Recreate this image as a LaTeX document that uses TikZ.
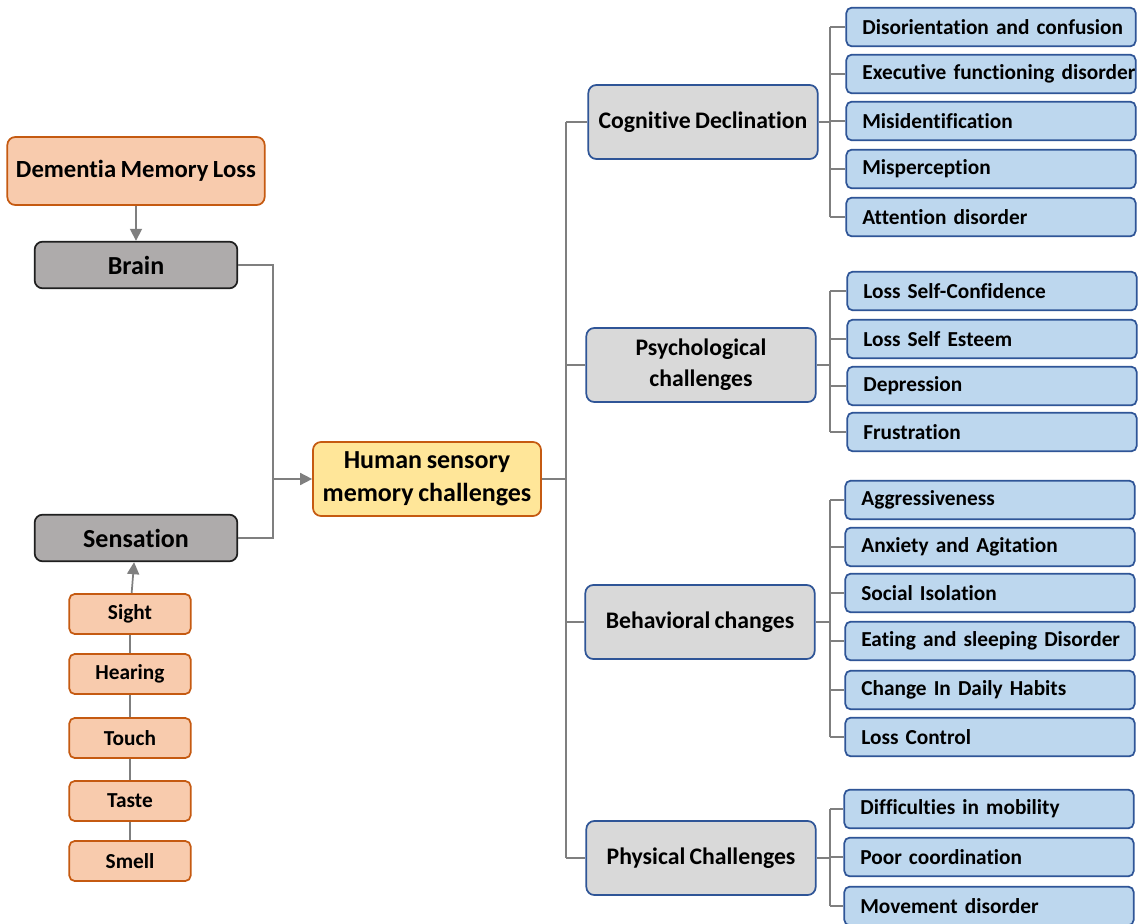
\documentclass[tikz,border=0pt]{standalone}
\usepackage{fontspec}
\setmainfont{Carlito}[Ligatures={NoCommon}, WordSpace=0.8]
\usetikzlibrary{arrows.meta, positioning}
\definecolor{DMpeach}{HTML}{F8CBAD}
\definecolor{DMorange}{HTML}{C55A11}
\definecolor{DMdark}{HTML}{1F1F1F}
\definecolor{DMgray}{HTML}{AEABAB}
\definecolor{DMyellow}{HTML}{FFE699}
\definecolor{DMlight}{HTML}{D9D9D9}
\definecolor{DMblue}{HTML}{2F5597}
\definecolor{DMleaf}{HTML}{BDD7EE}
\definecolor{DMline}{HTML}{7F7F7F}

\begin{document}
\begin{tikzpicture}[x=0.75pt, y=-0.75pt,
      box/.style={draw, rounded corners=6pt, line width=1.3pt, align=center},
      source/.style={box, fill=DMpeach, draw=DMorange, minimum width=193pt, minimum height=51pt, font=\fontsize{18.5}{22}\selectfont\bfseries},
      organ/.style={box, fill=DMgray, draw=DMdark, minimum width=152pt, minimum height=35pt, font=\fontsize{19.5}{22}\selectfont\bfseries},
      sense/.style={box, rounded corners=4pt, fill=DMpeach, draw=DMorange, minimum width=91pt, minimum height=30pt, font=\fontsize{16}{18}\selectfont\bfseries},
      hub/.style={box, fill=DMyellow, draw=DMorange, minimum width=171pt, minimum height=55.5pt, font=\fontsize{19.5}{25}\selectfont\bfseries},
      group/.style={box, fill=DMlight, draw=DMblue, minimum width=172pt, minimum height=55.5pt, font=\fontsize{17.8}{23}\selectfont\bfseries},
      leaf/.style={box, rounded corners=4pt, fill=DMleaf, draw=DMblue, minimum height=29pt, text width=193pt, inner xsep=12pt, align=left, font=\fontsize{16}{18}\selectfont\bfseries},
      link/.style={draw=DMline, line width=1.3pt},
      arrow/.style={link, -{Triangle[length=9pt, width=9pt]}}]

      \useasboundingbox (0,0) rectangle (1139,924);
      \fill[white] (0,0) rectangle (1139,924);

      % Left side: causes and senses
      \node[source] (dml) at (136,171) {Dementia Memory Loss};
      \node[organ] (brain) at (136,265) {Brain};
      \node[organ] (sens) at (136,538) {Sensation};
      \foreach \n/\y/\t in {sight/614/Sight, hear/674/Hearing, touch/738/Touch, taste/801/Taste, smell/861/Smell}
         \node[sense] (\n) at (130,\y) {\t};

      % Centre
      \node[hub] (hum) at (427,479) {Human sensory\\memory challenges};

      % Challenge groups
      \node[group] (cog) at (703,122) {Cognitive Declination};
      \node[group] (psy) at (701,365) {Psychological\\challenges};
      \node[group] (beh) at (700,622) {Behavioral changes};
      \node[group] (phy) at (701,858) {Physical Challenges};

      % Leaves of each group
      \foreach \n/\y/\t in {c1/27/Disorientation and confusion, c2/74/Executive functioning disorder,
            c3/121/Misidentification, c4/169/Misperception, c5/217/Attention disorder}
         \node[leaf] (\n) at (991,\y) {\mbox{\t}};
      \foreach \n/\y/\t in {p1/291/Loss Self-Confidence, p2/339/Loss Self Esteem,
            p3/386/Depression, p4/432/Frustration}
         \node[leaf] (\n) at (992,\y) {\mbox{\t}};
      \foreach \n/\y/\t in {b1/500/Aggressiveness, b2/547/Anxiety and Agitation, b3/593/Social Isolation,
            b4/641/Eating and sleeping Disorder, b5/690/Change In Daily Habits, b6/737/Loss Control}
         \node[leaf] (\n) at (990,\y) {\mbox{\t}};
      \foreach \n/\y/\t in {m1/809/Difficulties in mobility, m2/857/Poor coordination, m3/906/Movement disorder}
         \node[leaf] (\n) at (989,\y) {\mbox{\t}};

      % Connectors on the left
      \coordinate (join) at (273,479);
      \draw[arrow] (dml) -- (brain);
      \draw[link] (brain.east) -| (join);
      \draw[link] (sens.east) -| (join);
      \draw[arrow] (join) -- (hum);
      \draw[arrow] (sight) -- (sens);
      \foreach \a/\b in {sight/hear, hear/touch, touch/taste, taste/smell}
         \draw[link] (\a) -- (\b);

      % Main trunk
      \coordinate (trunk) at (566,0);
      \draw[link] (hum.east) -- (hum.east -| trunk);
      \draw[link] (cog.west -| trunk) -- (phy.west -| trunk);
      \foreach \g in {cog,psy,beh,phy}
         \draw[link] (\g.west) -- (\g.west -| trunk);

      % Sub trunks
      \coordinate (sub) at (830,0);
      \foreach \g/\l/\k in {cog/c/5, psy/p/4, beh/b/6, phy/m/3} {
         \draw[link] (\g.east) -- (\g.east -| sub);
         \draw[link] (\l1.west -| sub) -- (\l\k.west -| sub);
         \foreach \i in {1,...,\k}
            \draw[link] (\l\i.west) -- (\l\i.west -| sub);
      }
   \end{tikzpicture}
\end{document}
